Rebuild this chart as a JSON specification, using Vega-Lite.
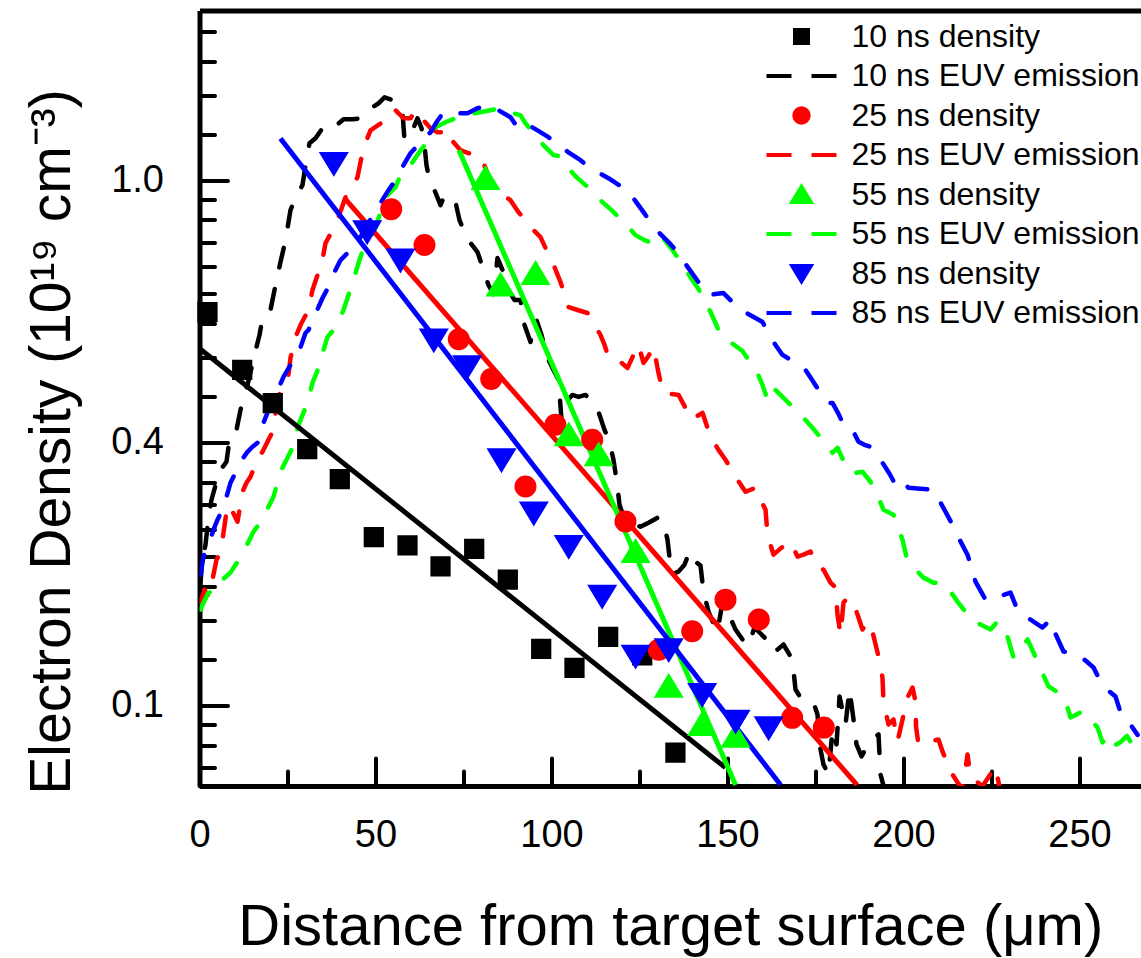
{
  "$schema": "https://vega.github.io/schema/vega-lite/v6.json",
  "autosize": {"type": "none"},
  "width": 941.5,
  "height": 775.5,
  "padding": {"left": 199.5, "top": 10.5, "right": 0, "bottom": 172},
  "background": "white",
  "config": {
    "view": {"stroke": null},
    "font": "Liberation Sans",
    "axis": {
      "grid": false,
      "domainColor": "black",
      "tickColor": "black",
      "labelColor": "black",
      "titleColor": "black",
      "labelFont": "Liberation Sans",
      "titleFont": "Liberation Sans",
      "titleFontWeight": "normal",
      "tickCap": "round"
    },
    "legend": {
      "orient": "none",
      "legendX": 580,
      "legendY": 4,
      "padding": 0,
      "labelFont": "Liberation Sans",
      "labelFontSize": 32,
      "labelColor": "black",
      "labelLimit": 0,
      "symbolSize": 1600,
      "symbolStrokeWidth": 4,
      "labelOffset": 28,
      "rowPadding": 1.5
    }
  },
  "datasets": {
    "emission": [
      {"s": "10 ns EUV emission", "x": 0.1, "y": 0.2104},
      {"s": "10 ns EUV emission", "x": 0.85, "y": 0.2358},
      {"s": "10 ns EUV emission", "x": 1.7, "y": 0.2496},
      {"s": "10 ns EUV emission", "x": 2.56, "y": 0.2766},
      {"s": "10 ns EUV emission", "x": 3.41, "y": 0.2962},
      {"s": "10 ns EUV emission", "x": 4.83, "y": 0.3172},
      {"s": "10 ns EUV emission", "x": 5.97, "y": 0.332},
      {"s": "10 ns EUV emission", "x": 7.67, "y": 0.3423},
      {"s": "10 ns EUV emission", "x": 8.52, "y": 0.3721},
      {"s": "10 ns EUV emission", "x": 10.51, "y": 0.3865},
      {"s": "10 ns EUV emission", "x": 11.65, "y": 0.417},
      {"s": "10 ns EUV emission", "x": 13.64, "y": 0.4587},
      {"s": "10 ns EUV emission", "x": 15.63, "y": 0.5141},
      {"s": "10 ns EUV emission", "x": 17.05, "y": 0.5547},
      {"s": "10 ns EUV emission", "x": 17.9, "y": 0.5917},
      {"s": "10 ns EUV emission", "x": 20.17, "y": 0.61},
      {"s": "10 ns EUV emission", "x": 21.88, "y": 0.6837},
      {"s": "10 ns EUV emission", "x": 23.01, "y": 0.7321},
      {"s": "10 ns EUV emission", "x": 24.43, "y": 0.796},
      {"s": "10 ns EUV emission", "x": 25.85, "y": 0.8922},
      {"s": "10 ns EUV emission", "x": 27.56, "y": 0.9446},
      {"s": "10 ns EUV emission", "x": 29.26, "y": 0.9812},
      {"s": "10 ns EUV emission", "x": 30.11, "y": 1.0587},
      {"s": "10 ns EUV emission", "x": 31.25, "y": 1.151},
      {"s": "10 ns EUV emission", "x": 32.95, "y": 1.173},
      {"s": "10 ns EUV emission", "x": 34.94, "y": 1.219},
      {"s": "10 ns EUV emission", "x": 37.22, "y": 1.209},
      {"s": "10 ns EUV emission", "x": 39.2, "y": 1.237},
      {"s": "10 ns EUV emission", "x": 40.91, "y": 1.261},
      {"s": "10 ns EUV emission", "x": 43.47, "y": 1.261},
      {"s": "10 ns EUV emission", "x": 45.74, "y": 1.266},
      {"s": "10 ns EUV emission", "x": 47.44, "y": 1.28},
      {"s": "10 ns EUV emission", "x": 49.15, "y": 1.32},
      {"s": "10 ns EUV emission", "x": 50.85, "y": 1.34},
      {"s": "10 ns EUV emission", "x": 52.56, "y": 1.371},
      {"s": "10 ns EUV emission", "x": 54.83, "y": 1.356},
      {"s": "10 ns EUV emission", "x": 56.53, "y": 1.335},
      {"s": "10 ns EUV emission", "x": 57.67, "y": 1.295},
      {"s": "10 ns EUV emission", "x": 58.24, "y": 1.164},
      {"s": "10 ns EUV emission", "x": 59.38, "y": 1.182},
      {"s": "10 ns EUV emission", "x": 60.51, "y": 1.209},
      {"s": "10 ns EUV emission", "x": 61.93, "y": 1.266},
      {"s": "10 ns EUV emission", "x": 63.07, "y": 1.219},
      {"s": "10 ns EUV emission", "x": 63.92, "y": 1.142},
      {"s": "10 ns EUV emission", "x": 64.49, "y": 1.0587},
      {"s": "10 ns EUV emission", "x": 65.34, "y": 1.0},
      {"s": "10 ns EUV emission", "x": 66.76, "y": 0.9627},
      {"s": "10 ns EUV emission", "x": 68.47, "y": 0.9093},
      {"s": "10 ns EUV emission", "x": 69.6, "y": 0.9446},
      {"s": "10 ns EUV emission", "x": 71.31, "y": 0.9268},
      {"s": "10 ns EUV emission", "x": 72.73, "y": 0.9197},
      {"s": "10 ns EUV emission", "x": 73.86, "y": 0.8589},
      {"s": "10 ns EUV emission", "x": 75.28, "y": 0.8206},
      {"s": "10 ns EUV emission", "x": 76.99, "y": 0.787},
      {"s": "10 ns EUV emission", "x": 78.98, "y": 0.7605},
      {"s": "10 ns EUV emission", "x": 80.68, "y": 0.7102},
      {"s": "10 ns EUV emission", "x": 82.1, "y": 0.6709},
      {"s": "10 ns EUV emission", "x": 83.52, "y": 0.6482},
      {"s": "10 ns EUV emission", "x": 84.66, "y": 0.7433},
      {"s": "10 ns EUV emission", "x": 86.08, "y": 0.7102},
      {"s": "10 ns EUV emission", "x": 87.78, "y": 0.6582},
      {"s": "10 ns EUV emission", "x": 89.49, "y": 0.6336},
      {"s": "10 ns EUV emission", "x": 91.19, "y": 0.6336},
      {"s": "10 ns EUV emission", "x": 92.33, "y": 0.5762},
      {"s": "10 ns EUV emission", "x": 94.03, "y": 0.5401},
      {"s": "10 ns EUV emission", "x": 95.74, "y": 0.5873},
      {"s": "10 ns EUV emission", "x": 97.16, "y": 0.5547},
      {"s": "10 ns EUV emission", "x": 98.86, "y": 0.5083},
      {"s": "10 ns EUV emission", "x": 100.57, "y": 0.4856},
      {"s": "10 ns EUV emission", "x": 101.99, "y": 0.4675},
      {"s": "10 ns EUV emission", "x": 102.84, "y": 0.4015},
      {"s": "10 ns EUV emission", "x": 104.55, "y": 0.4332},
      {"s": "10 ns EUV emission", "x": 105.97, "y": 0.4415},
      {"s": "10 ns EUV emission", "x": 107.67, "y": 0.4382},
      {"s": "10 ns EUV emission", "x": 109.66, "y": 0.4415},
      {"s": "10 ns EUV emission", "x": 111.65, "y": 0.4299},
      {"s": "10 ns EUV emission", "x": 113.35, "y": 0.4139},
      {"s": "10 ns EUV emission", "x": 115.06, "y": 0.3865},
      {"s": "10 ns EUV emission", "x": 116.48, "y": 0.3693},
      {"s": "10 ns EUV emission", "x": 117.61, "y": 0.3449},
      {"s": "10 ns EUV emission", "x": 118.47, "y": 0.3196},
      {"s": "10 ns EUV emission", "x": 119.32, "y": 0.2906},
      {"s": "10 ns EUV emission", "x": 120.74, "y": 0.2745},
      {"s": "10 ns EUV emission", "x": 123.01, "y": 0.2704},
      {"s": "10 ns EUV emission", "x": 125.28, "y": 0.2673},
      {"s": "10 ns EUV emission", "x": 127.56, "y": 0.2714},
      {"s": "10 ns EUV emission", "x": 130.11, "y": 0.2766},
      {"s": "10 ns EUV emission", "x": 131.82, "y": 0.2724},
      {"s": "10 ns EUV emission", "x": 132.95, "y": 0.2544},
      {"s": "10 ns EUV emission", "x": 134.09, "y": 0.2227},
      {"s": "10 ns EUV emission", "x": 136.08, "y": 0.2253},
      {"s": "10 ns EUV emission", "x": 137.78, "y": 0.2313},
      {"s": "10 ns EUV emission", "x": 139.2, "y": 0.2431},
      {"s": "10 ns EUV emission", "x": 140.91, "y": 0.234},
      {"s": "10 ns EUV emission", "x": 142.33, "y": 0.2305},
      {"s": "10 ns EUV emission", "x": 143.18, "y": 0.2088},
      {"s": "10 ns EUV emission", "x": 144.6, "y": 0.1935},
      {"s": "10 ns EUV emission", "x": 146.02, "y": 0.1849},
      {"s": "10 ns EUV emission", "x": 147.16, "y": 0.1793},
      {"s": "10 ns EUV emission", "x": 148.58, "y": 0.201},
      {"s": "10 ns EUV emission", "x": 150.28, "y": 0.192},
      {"s": "10 ns EUV emission", "x": 152.27, "y": 0.1807},
      {"s": "10 ns EUV emission", "x": 154.26, "y": 0.174},
      {"s": "10 ns EUV emission", "x": 155.97, "y": 0.17},
      {"s": "10 ns EUV emission", "x": 157.67, "y": 0.1821},
      {"s": "10 ns EUV emission", "x": 159.38, "y": 0.178},
      {"s": "10 ns EUV emission", "x": 161.08, "y": 0.174},
      {"s": "10 ns EUV emission", "x": 162.78, "y": 0.1753},
      {"s": "10 ns EUV emission", "x": 164.2, "y": 0.1674},
      {"s": "10 ns EUV emission", "x": 165.91, "y": 0.1707},
      {"s": "10 ns EUV emission", "x": 167.61, "y": 0.1643},
      {"s": "10 ns EUV emission", "x": 168.47, "y": 0.16},
      {"s": "10 ns EUV emission", "x": 169.32, "y": 0.1438},
      {"s": "10 ns EUV emission", "x": 170.74, "y": 0.1395},
      {"s": "10 ns EUV emission", "x": 172.44, "y": 0.1384},
      {"s": "10 ns EUV emission", "x": 174.43, "y": 0.1369},
      {"s": "10 ns EUV emission", "x": 175.57, "y": 0.1308},
      {"s": "10 ns EUV emission", "x": 176.14, "y": 0.1167},
      {"s": "10 ns EUV emission", "x": 177.27, "y": 0.1081},
      {"s": "10 ns EUV emission", "x": 178.69, "y": 0.1041},
      {"s": "10 ns EUV emission", "x": 179.83, "y": 0.1235},
      {"s": "10 ns EUV emission", "x": 180.97, "y": 0.1167},
      {"s": "10 ns EUV emission", "x": 181.82, "y": 0.14},
      {"s": "10 ns EUV emission", "x": 183.52, "y": 0.1259},
      {"s": "10 ns EUV emission", "x": 184.66, "y": 0.1438},
      {"s": "10 ns EUV emission", "x": 185.8, "y": 0.1283},
      {"s": "10 ns EUV emission", "x": 186.65, "y": 0.1167},
      {"s": "10 ns EUV emission", "x": 188.07, "y": 0.1115},
      {"s": "10 ns EUV emission", "x": 189.49, "y": 0.1154},
      {"s": "10 ns EUV emission", "x": 191.19, "y": 0.1189},
      {"s": "10 ns EUV emission", "x": 192.9, "y": 0.1212},
      {"s": "10 ns EUV emission", "x": 193.47, "y": 0.1041},
      {"s": "10 ns EUV emission", "x": 194.6, "y": 0.0983},

      {"s": "25 ns EUV emission", "x": 0.28, "y": 0.2002},
      {"s": "25 ns EUV emission", "x": 1.42, "y": 0.2104},
      {"s": "25 ns EUV emission", "x": 2.56, "y": 0.2049},
      {"s": "25 ns EUV emission", "x": 3.69, "y": 0.2185},
      {"s": "25 ns EUV emission", "x": 4.83, "y": 0.2358},
      {"s": "25 ns EUV emission", "x": 5.97, "y": 0.2421},
      {"s": "25 ns EUV emission", "x": 6.82, "y": 0.2613},
      {"s": "25 ns EUV emission", "x": 7.95, "y": 0.2906},
      {"s": "25 ns EUV emission", "x": 9.38, "y": 0.283},
      {"s": "25 ns EUV emission", "x": 10.8, "y": 0.2724},
      {"s": "25 ns EUV emission", "x": 12.22, "y": 0.3053},
      {"s": "25 ns EUV emission", "x": 13.35, "y": 0.316},
      {"s": "25 ns EUV emission", "x": 14.49, "y": 0.3233},
      {"s": "25 ns EUV emission", "x": 16.19, "y": 0.3423},
      {"s": "25 ns EUV emission", "x": 18.18, "y": 0.3582},
      {"s": "25 ns EUV emission", "x": 19.6, "y": 0.3721},
      {"s": "25 ns EUV emission", "x": 21.02, "y": 0.3865},
      {"s": "25 ns EUV emission", "x": 22.16, "y": 0.4382},
      {"s": "25 ns EUV emission", "x": 23.58, "y": 0.45},
      {"s": "25 ns EUV emission", "x": 25.0, "y": 0.4622},
      {"s": "25 ns EUV emission", "x": 25.85, "y": 0.5083},
      {"s": "25 ns EUV emission", "x": 27.27, "y": 0.5505},
      {"s": "25 ns EUV emission", "x": 28.98, "y": 0.5806},
      {"s": "25 ns EUV emission", "x": 30.97, "y": 0.61},
      {"s": "25 ns EUV emission", "x": 32.1, "y": 0.6582},
      {"s": "25 ns EUV emission", "x": 33.52, "y": 0.6968},
      {"s": "25 ns EUV emission", "x": 34.66, "y": 0.7238},
      {"s": "25 ns EUV emission", "x": 35.8, "y": 0.787},
      {"s": "25 ns EUV emission", "x": 37.5, "y": 0.8206},
      {"s": "25 ns EUV emission", "x": 39.2, "y": 0.8589},
      {"s": "25 ns EUV emission", "x": 41.48, "y": 0.9374},
      {"s": "25 ns EUV emission", "x": 43.18, "y": 0.9737},
      {"s": "25 ns EUV emission", "x": 44.89, "y": 1.0115},
      {"s": "25 ns EUV emission", "x": 46.02, "y": 1.0914},
      {"s": "25 ns EUV emission", "x": 47.44, "y": 1.164},
      {"s": "25 ns EUV emission", "x": 48.58, "y": 1.209},
      {"s": "25 ns EUV emission", "x": 50.28, "y": 1.228},
      {"s": "25 ns EUV emission", "x": 51.99, "y": 1.247},
      {"s": "25 ns EUV emission", "x": 53.69, "y": 1.295},
      {"s": "25 ns EUV emission", "x": 55.68, "y": 1.305},
      {"s": "25 ns EUV emission", "x": 57.95, "y": 1.266},
      {"s": "25 ns EUV emission", "x": 59.94, "y": 1.266},
      {"s": "25 ns EUV emission", "x": 61.36, "y": 1.305},
      {"s": "25 ns EUV emission", "x": 63.64, "y": 1.256},
      {"s": "25 ns EUV emission", "x": 65.63, "y": 1.219},
      {"s": "25 ns EUV emission", "x": 67.61, "y": 1.2},
      {"s": "25 ns EUV emission", "x": 69.32, "y": 1.2},
      {"s": "25 ns EUV emission", "x": 71.31, "y": 1.209},
      {"s": "25 ns EUV emission", "x": 72.16, "y": 1.155},
      {"s": "25 ns EUV emission", "x": 74.15, "y": 1.121},
      {"s": "25 ns EUV emission", "x": 76.42, "y": 1.108},
      {"s": "25 ns EUV emission", "x": 78.41, "y": 1.108},
      {"s": "25 ns EUV emission", "x": 80.68, "y": 1.0668},
      {"s": "25 ns EUV emission", "x": 82.39, "y": 1.0076},
      {"s": "25 ns EUV emission", "x": 84.09, "y": 0.9627},
      {"s": "25 ns EUV emission", "x": 86.08, "y": 0.9446},
      {"s": "25 ns EUV emission", "x": 88.35, "y": 0.9268},
      {"s": "25 ns EUV emission", "x": 90.63, "y": 0.8854},
      {"s": "25 ns EUV emission", "x": 93.18, "y": 0.8492},
      {"s": "25 ns EUV emission", "x": 94.89, "y": 0.8269},
      {"s": "25 ns EUV emission", "x": 96.88, "y": 0.8051},
      {"s": "25 ns EUV emission", "x": 98.58, "y": 0.7663},
      {"s": "25 ns EUV emission", "x": 100.28, "y": 0.7321},
      {"s": "25 ns EUV emission", "x": 101.42, "y": 0.7048},
      {"s": "25 ns EUV emission", "x": 102.56, "y": 0.6786},
      {"s": "25 ns EUV emission", "x": 103.98, "y": 0.6385},
      {"s": "25 ns EUV emission", "x": 104.83, "y": 0.617},
      {"s": "25 ns EUV emission", "x": 107.39, "y": 0.61},
      {"s": "25 ns EUV emission", "x": 110.23, "y": 0.6031},
      {"s": "25 ns EUV emission", "x": 112.22, "y": 0.5762},
      {"s": "25 ns EUV emission", "x": 113.92, "y": 0.5547},
      {"s": "25 ns EUV emission", "x": 115.06, "y": 0.534},
      {"s": "25 ns EUV emission", "x": 116.19, "y": 0.5102},
      {"s": "25 ns EUV emission", "x": 117.61, "y": 0.5102},
      {"s": "25 ns EUV emission", "x": 119.6, "y": 0.5006},
      {"s": "25 ns EUV emission", "x": 121.59, "y": 0.4893},
      {"s": "25 ns EUV emission", "x": 123.3, "y": 0.5141},
      {"s": "25 ns EUV emission", "x": 124.72, "y": 0.534},
      {"s": "25 ns EUV emission", "x": 126.14, "y": 0.4987},
      {"s": "25 ns EUV emission", "x": 127.56, "y": 0.5121},
      {"s": "25 ns EUV emission", "x": 128.98, "y": 0.53},
      {"s": "25 ns EUV emission", "x": 130.11, "y": 0.4893},
      {"s": "25 ns EUV emission", "x": 130.97, "y": 0.4639},
      {"s": "25 ns EUV emission", "x": 131.82, "y": 0.4449},
      {"s": "25 ns EUV emission", "x": 133.81, "y": 0.4432},
      {"s": "25 ns EUV emission", "x": 136.08, "y": 0.4415},
      {"s": "25 ns EUV emission", "x": 138.07, "y": 0.4203},
      {"s": "25 ns EUV emission", "x": 140.06, "y": 0.4015},
      {"s": "25 ns EUV emission", "x": 141.48, "y": 0.4077},
      {"s": "25 ns EUV emission", "x": 142.9, "y": 0.4124},
      {"s": "25 ns EUV emission", "x": 144.32, "y": 0.3895},
      {"s": "25 ns EUV emission", "x": 145.74, "y": 0.3721},
      {"s": "25 ns EUV emission", "x": 147.44, "y": 0.3582},
      {"s": "25 ns EUV emission", "x": 149.43, "y": 0.3449},
      {"s": "25 ns EUV emission", "x": 151.14, "y": 0.332},
      {"s": "25 ns EUV emission", "x": 152.84, "y": 0.3196},
      {"s": "25 ns EUV emission", "x": 155.11, "y": 0.3053},
      {"s": "25 ns EUV emission", "x": 156.53, "y": 0.3077},
      {"s": "25 ns EUV emission", "x": 157.95, "y": 0.31},
      {"s": "25 ns EUV emission", "x": 159.38, "y": 0.2962},
      {"s": "25 ns EUV emission", "x": 160.8, "y": 0.2851},
      {"s": "25 ns EUV emission", "x": 161.36, "y": 0.2593},
      {"s": "25 ns EUV emission", "x": 162.22, "y": 0.2496},
      {"s": "25 ns EUV emission", "x": 163.07, "y": 0.2403},
      {"s": "25 ns EUV emission", "x": 165.34, "y": 0.2468},
      {"s": "25 ns EUV emission", "x": 167.9, "y": 0.2525},
      {"s": "25 ns EUV emission", "x": 169.89, "y": 0.2385},
      {"s": "25 ns EUV emission", "x": 171.59, "y": 0.2403},
      {"s": "25 ns EUV emission", "x": 173.58, "y": 0.2431},
      {"s": "25 ns EUV emission", "x": 175.57, "y": 0.2287},
      {"s": "25 ns EUV emission", "x": 177.27, "y": 0.227},
      {"s": "25 ns EUV emission", "x": 179.26, "y": 0.216},
      {"s": "25 ns EUV emission", "x": 180.68, "y": 0.212},
      {"s": "25 ns EUV emission", "x": 181.25, "y": 0.1913},
      {"s": "25 ns EUV emission", "x": 182.1, "y": 0.1773},
      {"s": "25 ns EUV emission", "x": 182.95, "y": 0.2002},
      {"s": "25 ns EUV emission", "x": 184.09, "y": 0.2041},
      {"s": "25 ns EUV emission", "x": 185.8, "y": 0.2002},
      {"s": "25 ns EUV emission", "x": 188.35, "y": 0.1807},
      {"s": "25 ns EUV emission", "x": 189.77, "y": 0.1863},
      {"s": "25 ns EUV emission", "x": 191.19, "y": 0.1793},
      {"s": "25 ns EUV emission", "x": 192.9, "y": 0.1631},
      {"s": "25 ns EUV emission", "x": 194.03, "y": 0.1505},
      {"s": "25 ns EUV emission", "x": 194.32, "y": 0.1369},
      {"s": "25 ns EUV emission", "x": 195.74, "y": 0.1259},
      {"s": "25 ns EUV emission", "x": 197.16, "y": 0.1283},
      {"s": "25 ns EUV emission", "x": 198.3, "y": 0.118},
      {"s": "25 ns EUV emission", "x": 201.14, "y": 0.1395},
      {"s": "25 ns EUV emission", "x": 202.56, "y": 0.1449},
      {"s": "25 ns EUV emission", "x": 203.41, "y": 0.1374},
      {"s": "25 ns EUV emission", "x": 203.55, "y": 0.1249},
      {"s": "25 ns EUV emission", "x": 204.26, "y": 0.1167},
      {"s": "25 ns EUV emission", "x": 209.94, "y": 0.1189},
      {"s": "25 ns EUV emission", "x": 211.08, "y": 0.1136},
      {"s": "25 ns EUV emission", "x": 213.35, "y": 0.1053},
      {"s": "25 ns EUV emission", "x": 215.34, "y": 0.101},
      {"s": "25 ns EUV emission", "x": 216.76, "y": 0.0983},
      {"s": "25 ns EUV emission", "x": 218.18, "y": 0.1123},
      {"s": "25 ns EUV emission", "x": 219.03, "y": 0.1033},
      {"s": "25 ns EUV emission", "x": 222.44, "y": 0.0995},
      {"s": "25 ns EUV emission", "x": 226.14, "y": 0.1073},
      {"s": "25 ns EUV emission", "x": 226.99, "y": 0.101},
      {"s": "25 ns EUV emission", "x": 227.56, "y": 0.0976},

      {"s": "55 ns EUV emission", "x": 0.28, "y": 0.195},
      {"s": "55 ns EUV emission", "x": 1.14, "y": 0.2002},
      {"s": "55 ns EUV emission", "x": 2.56, "y": 0.208},
      {"s": "55 ns EUV emission", "x": 3.98, "y": 0.2088},
      {"s": "55 ns EUV emission", "x": 5.4, "y": 0.2104},
      {"s": "55 ns EUV emission", "x": 6.53, "y": 0.2185},
      {"s": "55 ns EUV emission", "x": 8.81, "y": 0.2244},
      {"s": "55 ns EUV emission", "x": 10.8, "y": 0.234},
      {"s": "55 ns EUV emission", "x": 12.5, "y": 0.2431},
      {"s": "55 ns EUV emission", "x": 13.92, "y": 0.2525},
      {"s": "55 ns EUV emission", "x": 15.34, "y": 0.2623},
      {"s": "55 ns EUV emission", "x": 16.76, "y": 0.2693},
      {"s": "55 ns EUV emission", "x": 18.18, "y": 0.2777},
      {"s": "55 ns EUV emission", "x": 19.6, "y": 0.2884},
      {"s": "55 ns EUV emission", "x": 21.02, "y": 0.2996},
      {"s": "55 ns EUV emission", "x": 23.01, "y": 0.3295},
      {"s": "55 ns EUV emission", "x": 24.72, "y": 0.3449},
      {"s": "55 ns EUV emission", "x": 26.42, "y": 0.361},
      {"s": "55 ns EUV emission", "x": 28.13, "y": 0.3939},
      {"s": "55 ns EUV emission", "x": 30.11, "y": 0.4203},
      {"s": "55 ns EUV emission", "x": 31.25, "y": 0.4415},
      {"s": "55 ns EUV emission", "x": 32.1, "y": 0.4622},
      {"s": "55 ns EUV emission", "x": 34.38, "y": 0.4987},
      {"s": "55 ns EUV emission", "x": 35.23, "y": 0.5239},
      {"s": "55 ns EUV emission", "x": 36.36, "y": 0.5505},
      {"s": "55 ns EUV emission", "x": 38.07, "y": 0.5653},
      {"s": "55 ns EUV emission", "x": 39.49, "y": 0.5828},
      {"s": "55 ns EUV emission", "x": 40.91, "y": 0.61},
      {"s": "55 ns EUV emission", "x": 42.33, "y": 0.6458},
      {"s": "55 ns EUV emission", "x": 44.32, "y": 0.7022},
      {"s": "55 ns EUV emission", "x": 45.45, "y": 0.7378},
      {"s": "55 ns EUV emission", "x": 46.59, "y": 0.7721},
      {"s": "55 ns EUV emission", "x": 48.3, "y": 0.8021},
      {"s": "55 ns EUV emission", "x": 50.0, "y": 0.8332},
      {"s": "55 ns EUV emission", "x": 51.42, "y": 0.8854},
      {"s": "55 ns EUV emission", "x": 52.84, "y": 0.9374},
      {"s": "55 ns EUV emission", "x": 55.68, "y": 0.9737},
      {"s": "55 ns EUV emission", "x": 57.1, "y": 1.0192},
      {"s": "55 ns EUV emission", "x": 58.81, "y": 1.0467},
      {"s": "55 ns EUV emission", "x": 60.51, "y": 1.0708},
      {"s": "55 ns EUV emission", "x": 62.22, "y": 1.108},
      {"s": "55 ns EUV emission", "x": 63.35, "y": 1.1294},
      {"s": "55 ns EUV emission", "x": 65.34, "y": 1.1776},
      {"s": "55 ns EUV emission", "x": 67.05, "y": 1.2233},
      {"s": "55 ns EUV emission", "x": 69.89, "y": 1.247},
      {"s": "55 ns EUV emission", "x": 73.58, "y": 1.2706},
      {"s": "55 ns EUV emission", "x": 78.13, "y": 1.2902},
      {"s": "55 ns EUV emission", "x": 82.67, "y": 1.305},
      {"s": "55 ns EUV emission", "x": 85.51, "y": 1.315},
      {"s": "55 ns EUV emission", "x": 88.35, "y": 1.295},
      {"s": "55 ns EUV emission", "x": 91.19, "y": 1.28},
      {"s": "55 ns EUV emission", "x": 92.61, "y": 1.242},
      {"s": "55 ns EUV emission", "x": 94.89, "y": 1.1957},
      {"s": "55 ns EUV emission", "x": 97.73, "y": 1.142},
      {"s": "55 ns EUV emission", "x": 100.57, "y": 1.0998},
      {"s": "55 ns EUV emission", "x": 102.56, "y": 1.0956},
      {"s": "55 ns EUV emission", "x": 104.55, "y": 1.0507},
      {"s": "55 ns EUV emission", "x": 107.1, "y": 1.0115},
      {"s": "55 ns EUV emission", "x": 109.66, "y": 0.9812},
      {"s": "55 ns EUV emission", "x": 111.93, "y": 0.9518},
      {"s": "55 ns EUV emission", "x": 114.49, "y": 0.9197},
      {"s": "55 ns EUV emission", "x": 117.05, "y": 0.8922},
      {"s": "55 ns EUV emission", "x": 119.6, "y": 0.8622},
      {"s": "55 ns EUV emission", "x": 121.88, "y": 0.8363},
      {"s": "55 ns EUV emission", "x": 123.86, "y": 0.8113},
      {"s": "55 ns EUV emission", "x": 126.42, "y": 0.796},
      {"s": "55 ns EUV emission", "x": 128.69, "y": 0.787},
      {"s": "55 ns EUV emission", "x": 130.97, "y": 0.8113},
      {"s": "55 ns EUV emission", "x": 134.38, "y": 0.7663},
      {"s": "55 ns EUV emission", "x": 138.07, "y": 0.7129},
      {"s": "55 ns EUV emission", "x": 139.77, "y": 0.6863},
      {"s": "55 ns EUV emission", "x": 141.76, "y": 0.6607},
      {"s": "55 ns EUV emission", "x": 143.47, "y": 0.6336},
      {"s": "55 ns EUV emission", "x": 145.17, "y": 0.6054},
      {"s": "55 ns EUV emission", "x": 146.59, "y": 0.5806},
      {"s": "55 ns EUV emission", "x": 148.01, "y": 0.5547},
      {"s": "55 ns EUV emission", "x": 151.14, "y": 0.538},
      {"s": "55 ns EUV emission", "x": 154.26, "y": 0.5219},
      {"s": "55 ns EUV emission", "x": 155.97, "y": 0.5044},
      {"s": "55 ns EUV emission", "x": 158.24, "y": 0.4837},
      {"s": "55 ns EUV emission", "x": 159.94, "y": 0.4587},
      {"s": "55 ns EUV emission", "x": 161.36, "y": 0.4332},
      {"s": "55 ns EUV emission", "x": 163.07, "y": 0.4534},
      {"s": "55 ns EUV emission", "x": 165.63, "y": 0.4382},
      {"s": "55 ns EUV emission", "x": 167.9, "y": 0.4251},
      {"s": "55 ns EUV emission", "x": 169.6, "y": 0.4139},
      {"s": "55 ns EUV emission", "x": 171.59, "y": 0.4046},
      {"s": "55 ns EUV emission", "x": 174.15, "y": 0.3895},
      {"s": "55 ns EUV emission", "x": 176.99, "y": 0.3721},
      {"s": "55 ns EUV emission", "x": 179.83, "y": 0.3542},
      {"s": "55 ns EUV emission", "x": 181.25, "y": 0.361},
      {"s": "55 ns EUV emission", "x": 182.95, "y": 0.3436},
      {"s": "55 ns EUV emission", "x": 184.94, "y": 0.3282},
      {"s": "55 ns EUV emission", "x": 186.65, "y": 0.3282},
      {"s": "55 ns EUV emission", "x": 188.35, "y": 0.3295},
      {"s": "55 ns EUV emission", "x": 190.63, "y": 0.3172},
      {"s": "55 ns EUV emission", "x": 192.9, "y": 0.2985},
      {"s": "55 ns EUV emission", "x": 194.32, "y": 0.2851},
      {"s": "55 ns EUV emission", "x": 197.16, "y": 0.2798},
      {"s": "55 ns EUV emission", "x": 198.58, "y": 0.2663},
      {"s": "55 ns EUV emission", "x": 199.72, "y": 0.2544},
      {"s": "55 ns EUV emission", "x": 201.14, "y": 0.234},
      {"s": "55 ns EUV emission", "x": 203.41, "y": 0.227},
      {"s": "55 ns EUV emission", "x": 205.68, "y": 0.2202},
      {"s": "55 ns EUV emission", "x": 208.52, "y": 0.216},
      {"s": "55 ns EUV emission", "x": 211.36, "y": 0.216},
      {"s": "55 ns EUV emission", "x": 213.35, "y": 0.2088},
      {"s": "55 ns EUV emission", "x": 215.34, "y": 0.201},
      {"s": "55 ns EUV emission", "x": 217.33, "y": 0.1942},
      {"s": "55 ns EUV emission", "x": 219.03, "y": 0.1877},
      {"s": "55 ns EUV emission", "x": 221.88, "y": 0.1842},
      {"s": "55 ns EUV emission", "x": 224.72, "y": 0.1807},
      {"s": "55 ns EUV emission", "x": 226.7, "y": 0.1863},
      {"s": "55 ns EUV emission", "x": 228.98, "y": 0.1807},
      {"s": "55 ns EUV emission", "x": 230.11, "y": 0.1713},
      {"s": "55 ns EUV emission", "x": 231.25, "y": 0.1624},
      {"s": "55 ns EUV emission", "x": 233.24, "y": 0.1674},
      {"s": "55 ns EUV emission", "x": 235.23, "y": 0.174},
      {"s": "55 ns EUV emission", "x": 236.93, "y": 0.1656},
      {"s": "55 ns EUV emission", "x": 238.35, "y": 0.1582},
      {"s": "55 ns EUV emission", "x": 239.77, "y": 0.1517},
      {"s": "55 ns EUV emission", "x": 241.19, "y": 0.1455},
      {"s": "55 ns EUV emission", "x": 243.47, "y": 0.1427},
      {"s": "55 ns EUV emission", "x": 245.45, "y": 0.14},
      {"s": "55 ns EUV emission", "x": 246.59, "y": 0.1343},
      {"s": "55 ns EUV emission", "x": 247.44, "y": 0.1293},
      {"s": "55 ns EUV emission", "x": 249.15, "y": 0.1308},
      {"s": "55 ns EUV emission", "x": 250.85, "y": 0.1323},
      {"s": "55 ns EUV emission", "x": 253.13, "y": 0.1283},
      {"s": "55 ns EUV emission", "x": 255.11, "y": 0.1245},
      {"s": "55 ns EUV emission", "x": 256.53, "y": 0.1176},
      {"s": "55 ns EUV emission", "x": 257.95, "y": 0.1203},
      {"s": "55 ns EUV emission", "x": 259.38, "y": 0.1158},
      {"s": "55 ns EUV emission", "x": 261.5, "y": 0.1175},
      {"s": "55 ns EUV emission", "x": 263.5, "y": 0.1205},
      {"s": "55 ns EUV emission", "x": 266.5, "y": 0.113},

      {"s": "85 ns EUV emission", "x": 0.28, "y": 0.2227},
      {"s": "85 ns EUV emission", "x": 1.14, "y": 0.2385},
      {"s": "85 ns EUV emission", "x": 2.56, "y": 0.2496},
      {"s": "85 ns EUV emission", "x": 3.98, "y": 0.2643},
      {"s": "85 ns EUV emission", "x": 5.11, "y": 0.2745},
      {"s": "85 ns EUV emission", "x": 6.53, "y": 0.2851},
      {"s": "85 ns EUV emission", "x": 7.67, "y": 0.2996},
      {"s": "85 ns EUV emission", "x": 8.81, "y": 0.316},
      {"s": "85 ns EUV emission", "x": 10.23, "y": 0.3282},
      {"s": "85 ns EUV emission", "x": 11.65, "y": 0.3423},
      {"s": "85 ns EUV emission", "x": 13.64, "y": 0.3555},
      {"s": "85 ns EUV emission", "x": 15.06, "y": 0.3624},
      {"s": "85 ns EUV emission", "x": 16.48, "y": 0.3679},
      {"s": "85 ns EUV emission", "x": 18.18, "y": 0.397},
      {"s": "85 ns EUV emission", "x": 20.17, "y": 0.4251},
      {"s": "85 ns EUV emission", "x": 21.02, "y": 0.4332},
      {"s": "85 ns EUV emission", "x": 23.86, "y": 0.4729},
      {"s": "85 ns EUV emission", "x": 25.85, "y": 0.4949},
      {"s": "85 ns EUV emission", "x": 28.13, "y": 0.518},
      {"s": "85 ns EUV emission", "x": 30.11, "y": 0.5589},
      {"s": "85 ns EUV emission", "x": 30.97, "y": 0.5653},
      {"s": "85 ns EUV emission", "x": 32.39, "y": 0.5917},
      {"s": "85 ns EUV emission", "x": 33.81, "y": 0.617},
      {"s": "85 ns EUV emission", "x": 34.94, "y": 0.6385},
      {"s": "85 ns EUV emission", "x": 36.65, "y": 0.6658},
      {"s": "85 ns EUV emission", "x": 38.35, "y": 0.7048},
      {"s": "85 ns EUV emission", "x": 40.06, "y": 0.7378},
      {"s": "85 ns EUV emission", "x": 42.9, "y": 0.7663},
      {"s": "85 ns EUV emission", "x": 44.89, "y": 0.787},
      {"s": "85 ns EUV emission", "x": 46.31, "y": 0.8175},
      {"s": "85 ns EUV emission", "x": 47.73, "y": 0.8492},
      {"s": "85 ns EUV emission", "x": 49.15, "y": 0.8688},
      {"s": "85 ns EUV emission", "x": 51.42, "y": 0.9163},
      {"s": "85 ns EUV emission", "x": 53.69, "y": 0.9627},
      {"s": "85 ns EUV emission", "x": 56.25, "y": 1.0115},
      {"s": "85 ns EUV emission", "x": 57.95, "y": 1.0587},
      {"s": "85 ns EUV emission", "x": 59.94, "y": 1.108},
      {"s": "85 ns EUV emission", "x": 62.78, "y": 1.155},
      {"s": "85 ns EUV emission", "x": 65.63, "y": 1.2},
      {"s": "85 ns EUV emission", "x": 67.33, "y": 1.247},
      {"s": "85 ns EUV emission", "x": 69.32, "y": 1.295},
      {"s": "85 ns EUV emission", "x": 72.73, "y": 1.29},
      {"s": "85 ns EUV emission", "x": 76.14, "y": 1.29},
      {"s": "85 ns EUV emission", "x": 78.98, "y": 1.315},
      {"s": "85 ns EUV emission", "x": 81.82, "y": 1.33},
      {"s": "85 ns EUV emission", "x": 84.94, "y": 1.305},
      {"s": "85 ns EUV emission", "x": 88.35, "y": 1.271},
      {"s": "85 ns EUV emission", "x": 90.34, "y": 1.223},
      {"s": "85 ns EUV emission", "x": 92.61, "y": 1.242},
      {"s": "85 ns EUV emission", "x": 96.02, "y": 1.209},
      {"s": "85 ns EUV emission", "x": 99.15, "y": 1.178},
      {"s": "85 ns EUV emission", "x": 101.99, "y": 1.142},
      {"s": "85 ns EUV emission", "x": 104.83, "y": 1.112},
      {"s": "85 ns EUV emission", "x": 108.24, "y": 1.079},
      {"s": "85 ns EUV emission", "x": 111.08, "y": 1.0467},
      {"s": "85 ns EUV emission", "x": 113.64, "y": 1.027},
      {"s": "85 ns EUV emission", "x": 116.19, "y": 1.0076},
      {"s": "85 ns EUV emission", "x": 118.75, "y": 0.9849},
      {"s": "85 ns EUV emission", "x": 121.59, "y": 0.9627},
      {"s": "85 ns EUV emission", "x": 123.86, "y": 0.9233},
      {"s": "85 ns EUV emission", "x": 126.14, "y": 0.8854},
      {"s": "85 ns EUV emission", "x": 128.13, "y": 0.8524},
      {"s": "85 ns EUV emission", "x": 130.4, "y": 0.8206},
      {"s": "85 ns EUV emission", "x": 133.24, "y": 0.79},
      {"s": "85 ns EUV emission", "x": 135.8, "y": 0.7605},
      {"s": "85 ns EUV emission", "x": 138.07, "y": 0.7266},
      {"s": "85 ns EUV emission", "x": 140.34, "y": 0.6968},
      {"s": "85 ns EUV emission", "x": 142.33, "y": 0.6709},
      {"s": "85 ns EUV emission", "x": 144.6, "y": 0.6458},
      {"s": "85 ns EUV emission", "x": 146.59, "y": 0.6482},
      {"s": "85 ns EUV emission", "x": 148.86, "y": 0.6507},
      {"s": "85 ns EUV emission", "x": 150.85, "y": 0.6336},
      {"s": "85 ns EUV emission", "x": 152.84, "y": 0.617},
      {"s": "85 ns EUV emission", "x": 155.4, "y": 0.6031},
      {"s": "85 ns EUV emission", "x": 157.95, "y": 0.5917},
      {"s": "85 ns EUV emission", "x": 159.94, "y": 0.5828},
      {"s": "85 ns EUV emission", "x": 161.65, "y": 0.5589},
      {"s": "85 ns EUV emission", "x": 163.64, "y": 0.534},
      {"s": "85 ns EUV emission", "x": 165.63, "y": 0.5141},
      {"s": "85 ns EUV emission", "x": 168.47, "y": 0.5025},
      {"s": "85 ns EUV emission", "x": 171.59, "y": 0.4911},
      {"s": "85 ns EUV emission", "x": 173.86, "y": 0.4692},
      {"s": "85 ns EUV emission", "x": 175.85, "y": 0.45},
      {"s": "85 ns EUV emission", "x": 178.41, "y": 0.4283},
      {"s": "85 ns EUV emission", "x": 179.83, "y": 0.4283},
      {"s": "85 ns EUV emission", "x": 181.53, "y": 0.4108},
      {"s": "85 ns EUV emission", "x": 182.95, "y": 0.3939},
      {"s": "85 ns EUV emission", "x": 185.51, "y": 0.3865},
      {"s": "85 ns EUV emission", "x": 187.22, "y": 0.3693},
      {"s": "85 ns EUV emission", "x": 188.92, "y": 0.3651},
      {"s": "85 ns EUV emission", "x": 190.63, "y": 0.3624},
      {"s": "85 ns EUV emission", "x": 192.33, "y": 0.3515},
      {"s": "85 ns EUV emission", "x": 194.03, "y": 0.341},
      {"s": "85 ns EUV emission", "x": 196.02, "y": 0.327},
      {"s": "85 ns EUV emission", "x": 197.73, "y": 0.3136},
      {"s": "85 ns EUV emission", "x": 199.15, "y": 0.3196},
      {"s": "85 ns EUV emission", "x": 201.42, "y": 0.31},
      {"s": "85 ns EUV emission", "x": 204.83, "y": 0.3089},
      {"s": "85 ns EUV emission", "x": 208.52, "y": 0.3077},
      {"s": "85 ns EUV emission", "x": 210.23, "y": 0.2951},
      {"s": "85 ns EUV emission", "x": 211.93, "y": 0.283},
      {"s": "85 ns EUV emission", "x": 213.92, "y": 0.2693},
      {"s": "85 ns EUV emission", "x": 215.63, "y": 0.2564},
      {"s": "85 ns EUV emission", "x": 218.18, "y": 0.2403},
      {"s": "85 ns EUV emission", "x": 219.32, "y": 0.2287},
      {"s": "85 ns EUV emission", "x": 220.45, "y": 0.2168},
      {"s": "85 ns EUV emission", "x": 223.3, "y": 0.2025},
      {"s": "85 ns EUV emission", "x": 224.72, "y": 0.2017},
      {"s": "85 ns EUV emission", "x": 226.99, "y": 0.2049},
      {"s": "85 ns EUV emission", "x": 228.69, "y": 0.2064},
      {"s": "85 ns EUV emission", "x": 230.4, "y": 0.208},
      {"s": "85 ns EUV emission", "x": 232.67, "y": 0.1928},
      {"s": "85 ns EUV emission", "x": 236.08, "y": 0.1877},
      {"s": "85 ns EUV emission", "x": 239.49, "y": 0.1821},
      {"s": "85 ns EUV emission", "x": 241.76, "y": 0.1877},
      {"s": "85 ns EUV emission", "x": 242.61, "y": 0.1807},
      {"s": "85 ns EUV emission", "x": 244.03, "y": 0.1733},
      {"s": "85 ns EUV emission", "x": 245.45, "y": 0.1662},
      {"s": "85 ns EUV emission", "x": 247.44, "y": 0.1656},
      {"s": "85 ns EUV emission", "x": 249.43, "y": 0.1643},
      {"s": "85 ns EUV emission", "x": 251.7, "y": 0.1606},
      {"s": "85 ns EUV emission", "x": 253.98, "y": 0.1564},
      {"s": "85 ns EUV emission", "x": 255.4, "y": 0.1505},
      {"s": "85 ns EUV emission", "x": 256.82, "y": 0.1449},
      {"s": "85 ns EUV emission", "x": 258.52, "y": 0.1427},
      {"s": "85 ns EUV emission", "x": 260.23, "y": 0.14},
      {"s": "85 ns EUV emission", "x": 261.65, "y": 0.1318},
      {"s": "85 ns EUV emission", "x": 264.0, "y": 0.127},
      {"s": "85 ns EUV emission", "x": 266.5, "y": 0.121}
    ],
    "fits": [
      {"s": "10 ns density", "x": 0, "y": 0.527},
      {"s": "10 ns density", "x": 149.4, "y": 0.1068},
      {"s": "25 ns density", "x": 41.2, "y": 0.934},
      {"s": "25 ns density", "x": 186.8, "y": 0.1},
      {"s": "55 ns density", "x": 73.7, "y": 1.121},
      {"s": "55 ns density", "x": 152.3, "y": 0.1},
      {"s": "85 ns density", "x": 23.0, "y": 1.172},
      {"s": "85 ns density", "x": 165.1, "y": 0.1}
    ],
    "density": [
      {"s": "10 ns density", "x": 2.27, "y": 0.605},
      {"s": "10 ns density", "x": 12.13, "y": 0.4856},
      {"s": "10 ns density", "x": 20.82, "y": 0.4278},
      {"s": "10 ns density", "x": 30.6, "y": 0.3592},
      {"s": "10 ns density", "x": 39.86, "y": 0.3204},
      {"s": "10 ns density", "x": 49.52, "y": 0.257},
      {"s": "10 ns density", "x": 59.09, "y": 0.249},
      {"s": "10 ns density", "x": 68.47, "y": 0.2299},
      {"s": "10 ns density", "x": 78.04, "y": 0.2456},
      {"s": "10 ns density", "x": 87.59, "y": 0.2185},
      {"s": "10 ns density", "x": 97.07, "y": 0.1679},
      {"s": "10 ns density", "x": 106.53, "y": 0.1562},
      {"s": "10 ns density", "x": 116.1, "y": 0.1757},
      {"s": "10 ns density", "x": 125.77, "y": 0.1637},
      {"s": "10 ns density", "x": 135.2, "y": 0.1131},
      {"s": "25 ns density", "x": 54.46, "y": 0.8956},
      {"s": "25 ns density", "x": 63.92, "y": 0.7811},
      {"s": "25 ns density", "x": 73.66, "y": 0.5457},
      {"s": "25 ns density", "x": 82.87, "y": 0.4692},
      {"s": "25 ns density", "x": 92.61, "y": 0.3116},
      {"s": "25 ns density", "x": 101.1, "y": 0.394},
      {"s": "25 ns density", "x": 111.56, "y": 0.3721},
      {"s": "25 ns density", "x": 121.02, "y": 0.2727},
      {"s": "25 ns density", "x": 130.48, "y": 0.1674},
      {"s": "25 ns density", "x": 139.97, "y": 0.1795},
      {"s": "25 ns density", "x": 149.43, "y": 0.2025},
      {"s": "25 ns density", "x": 158.89, "y": 0.1877},
      {"s": "25 ns density", "x": 168.38, "y": 0.1291},
      {"s": "25 ns density", "x": 177.36, "y": 0.1244},
      {"s": "55 ns density", "x": 81.25, "y": 1.0065},
      {"s": "55 ns density", "x": 85.51, "y": 0.6709},
      {"s": "55 ns density", "x": 95.45, "y": 0.7013},
      {"s": "55 ns density", "x": 104.9, "y": 0.3792},
      {"s": "55 ns density", "x": 113.4, "y": 0.3515},
      {"s": "55 ns density", "x": 123.9, "y": 0.2433},
      {"s": "55 ns density", "x": 133.3, "y": 0.1456},
      {"s": "55 ns density", "x": 142.8, "y": 0.1259},
      {"s": "55 ns density", "x": 152.3, "y": 0.1204},
      {"s": "85 ns density", "x": 38.15, "y": 1.0656},
      {"s": "85 ns density", "x": 47.64, "y": 0.8215},
      {"s": "85 ns density", "x": 57.1, "y": 0.7378},
      {"s": "85 ns density", "x": 66.56, "y": 0.5442},
      {"s": "85 ns density", "x": 76.05, "y": 0.4917},
      {"s": "85 ns density", "x": 85.8, "y": 0.3449},
      {"s": "85 ns density", "x": 94.97, "y": 0.2816},
      {"s": "85 ns density", "x": 104.9, "y": 0.248},
      {"s": "85 ns density", "x": 114.4, "y": 0.2051},
      {"s": "85 ns density", "x": 123.9, "y": 0.1633},
      {"s": "85 ns density", "x": 133.3, "y": 0.1674},
      {"s": "85 ns density", "x": 142.8, "y": 0.1411},
      {"s": "85 ns density", "x": 152.3, "y": 0.1275},
      {"s": "85 ns density", "x": 161.7, "y": 0.1243}
    ]
  },
  "layer": [
    {
      "data": {"name": "emission"},
      "mark": {"type": "line", "strokeWidth": 4.5, "strokeDash": [20, 22], "strokeCap": "round", "strokeJoin": "round", "clip": true},
      "encoding": {
        "x": {
          "field": "x", "type": "quantitative",
          "scale": {"domain": [0, 267.47], "nice": false, "zero": false},
          "axis": {
            "orient": "bottom",
            "values": [0, 50, 100, 150, 200, 250],
            "tickSize": -28, "tickWidth": 4, "domainWidth": 5,
            "labelFontSize": 38, "labelPadding": 58, "labelFlush": false,
            "title": "Distance from target surface (μm)",
            "titleFontSize": 58, "titleBaseline": "alphabetic", "titleY": 158
          }
        },
        "y": {
          "field": "y", "type": "quantitative",
          "scale": {"type": "log", "domain": [0.0996, 1.908], "nice": false},
          "axis": {
            "orient": "left",
            "values": [0.135335, 0.367879, 1],
            "labelExpr": "format(datum.value, '.1f')",
            "tickSize": -28, "tickWidth": 4, "domainWidth": 5,
            "labelFontSize": 38, "labelPadding": 64, "labelFlush": false,
            "title": "Electron Density (10¹⁹ cm⁻³)",
            "titleFontSize": 57, "titleBaseline": "alphabetic", "titleAlign": "center",
            "titleX": -130, "titleY": 431
          }
        },
        "color": {
          "field": "s", "type": "nominal",
          "scale": {
            "domain": ["10 ns EUV emission", "25 ns EUV emission", "55 ns EUV emission", "85 ns EUV emission", "10 ns density", "25 ns density", "55 ns density", "85 ns density"],
            "range": ["#000000", "#ff0000", "#00ff00", "#0000ff", "#000000", "#ff0000", "#00ff00", "#0000ff"]
          },
          "legend": null
        }
      }
    },
    {
      "data": {"name": "fits"},
      "mark": {"type": "line", "strokeWidth": 5, "clip": true},
      "encoding": {
        "x": {
          "field": "x", "type": "quantitative",
          "axis": {
            "orient": "bottom",
            "values": [25, 75, 125, 175, 225],
            "tickSize": -15, "tickWidth": 4, "domain": false, "labels": false, "title": null
          }
        },
        "y": {
          "field": "y", "type": "quantitative",
          "axis": {
            "orient": "left",
            "values": [0.10682, 0.11632, 0.12583, 0.161173, 0.187011, 0.212849, 0.238687, 0.264525, 0.290363, 0.316201, 0.342039, 0.438115, 0.508351, 0.578587, 0.648823, 0.719059, 0.789295, 0.859531, 0.929767, 1.19092, 1.38184, 1.57276, 1.76368],
            "tickSize": -15, "tickWidth": 4, "domain": false, "labels": false, "title": null
          }
        },
        "color": {"field": "s", "type": "nominal", "legend": null}
      }
    },
    {
      "data": {"name": "density"},
      "mark": {"type": "point", "filled": true, "size": 2500, "strokeWidth": 4, "opacity": 1},
      "encoding": {
        "x": {
          "field": "x", "type": "quantitative",
          "axis": {"orient": "top", "domain": true, "domainWidth": 5, "ticks": false, "labels": false, "title": null}
        },
        "y": {"field": "y", "type": "quantitative", "axis": null},
        "shape": {
          "field": "s", "type": "nominal",
          "scale": {
            "domain": ["10 ns density", "10 ns EUV emission", "25 ns density", "25 ns EUV emission", "55 ns density", "55 ns EUV emission", "85 ns density", "85 ns EUV emission"],
            "range": [
              "M-0.325,-0.325H0.325V0.325H-0.325Z",
              "M-1.75,0H-0.5M0.5,0H1.75",
              "M-0.36,0A0.36,0.36,0,1,0,0.36,0A0.36,0.36,0,1,0,-0.36,0Z",
              "M-1.75,0H-0.5M0.5,0H1.75",
              "M0,-0.38L0.46,0.38L-0.46,0.38Z",
              "M-1.75,0H-0.5M0.5,0H1.75",
              "M0,0.38L0.46,-0.38L-0.46,-0.38Z",
              "M-1.75,0H-0.5M0.5,0H1.75"
            ]
          },
          "legend": {"title": null}
        },
        "fill": {
          "field": "s", "type": "nominal",
          "scale": {
            "domain": ["10 ns density", "10 ns EUV emission", "25 ns density", "25 ns EUV emission", "55 ns density", "55 ns EUV emission", "85 ns density", "85 ns EUV emission"],
            "range": ["#000000", "#000000", "#ff0000", "#ff0000", "#00ff00", "#00ff00", "#0000ff", "#0000ff"]
          },
          "legend": {"title": null}
        },
        "stroke": {
          "field": "s", "type": "nominal",
          "scale": {
            "domain": ["10 ns density", "10 ns EUV emission", "25 ns density", "25 ns EUV emission", "55 ns density", "55 ns EUV emission", "85 ns density", "85 ns EUV emission"],
            "range": ["#000000", "#000000", "#ff0000", "#ff0000", "#00ff00", "#00ff00", "#0000ff", "#0000ff"]
          },
          "legend": {"title": null}
        }
      }
    }
  ],
  "resolve": {"axis": {"x": "independent", "y": "independent"}}
}
